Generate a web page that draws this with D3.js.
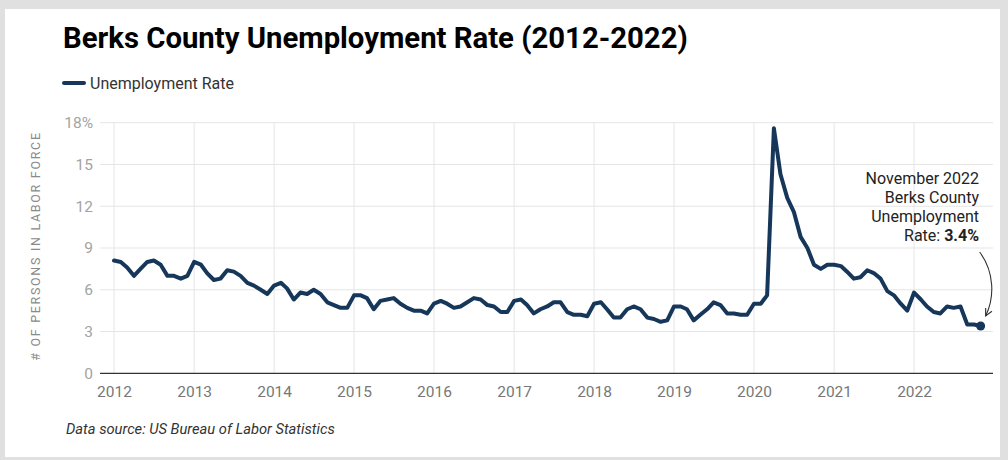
<!DOCTYPE html>
<html>
<head>
<meta charset="utf-8">
<script src="https://cdn.jsdelivr.net/npm/d3@7"></script>
<style>
  html, body { margin: 0; padding: 0; background: #e0e0e0; }
  svg { display: block; font-family: Roboto, "Noto Sans", sans-serif; }
</style>
</head>
<body>
<svg id="chart" width="1008" height="460"></svg>
<script>
// ---- Data ----
const years = [2012, 2013, 2014, 2015, 2016, 2017, 2018, 2019, 2020, 2021, 2022];
const yTicks = [0, 3, 6, 9, 12, 15, 18];
const rate2012 = [8.1, 8.0, 7.6, 7.0, 7.5, 8.0, 8.1, 7.8, 7.0, 7.0, 6.8, 7.0];
const rate2013 = [8.0, 7.8, 7.2, 6.7, 6.8, 7.4, 7.3, 7.0, 6.5, 6.3, 6.0, 5.7];
const rate2014 = [6.3, 6.5, 6.1, 5.3, 5.8, 5.7, 6.0, 5.7, 5.1, 4.9, 4.7, 4.7];
const rate2015 = [5.6, 5.6, 5.4, 4.6, 5.2, 5.3, 5.4, 5.0, 4.7, 4.5, 4.5, 4.3];
const rate2016 = [5.0, 5.2, 5.0, 4.7, 4.8, 5.1, 5.4, 5.3, 4.9, 4.8, 4.4, 4.4];
const rate2017 = [5.2, 5.3, 4.9, 4.3, 4.6, 4.8, 5.1, 5.1, 4.4, 4.2, 4.2, 4.1];
const rate2018 = [5.0, 5.1, 4.6, 4.0, 4.0, 4.6, 4.8, 4.6, 4.0, 3.9, 3.7, 3.8];
const rate2019 = [4.8, 4.8, 4.6, 3.8, 4.2, 4.6, 5.1, 4.9, 4.3, 4.3, 4.2, 4.2];
const rate2020 = [5.0, 5.0, 5.6, 17.6, 14.3, 12.6, 11.6, 9.8, 9.0, 7.8, 7.5, 7.8];
const rate2021 = [7.8, 7.7, 7.3, 6.8, 6.9, 7.4, 7.2, 6.8, 5.9, 5.6, 5.0, 4.5];
const rate2022 = [5.8, 5.3, 4.8, 4.4, 4.3, 4.8, 4.7, 4.8, 3.5, 3.5, 3.4];
const seriesName = "Unemployment Rate";

const byYear = [rate2012, rate2013, rate2014, rate2015, rate2016, rate2017,
                rate2018, rate2019, rate2020, rate2021, rate2022];
const data = [];
byYear.forEach((arr, i) => arr.forEach((v, m) => data.push({ date: new Date(years[i], m, 1), value: v })));

// ---- Layout ----
const svg = d3.select("#chart");
const plotLeft = 100, plotRight = 993, plotTop = 122.7, plotBottom = 373.3;

svg.append("rect").attr("x", 5).attr("y", 9).attr("width", 995).attr("height", 448).attr("fill", "#ffffff");

const x = d3.scaleTime()
  .domain([new Date(2012, 0, 1), new Date(2023, 0, 1)])
  .range([114, 994]);
const y = d3.scaleLinear().domain([0, 18]).range([plotBottom, plotTop]);

// Title
svg.append("text").attr("x", 63).attr("y", 48)
  .attr("font-size", 29.3).attr("font-weight", 700).attr("fill", "#000")
  .text("Berks County Unemployment Rate (2012-2022)");

// Legend
svg.append("line").attr("x1", 64).attr("x2", 84).attr("y1", 83).attr("y2", 83)
  .attr("stroke", "#16375a").attr("stroke-width", 4).attr("stroke-linecap", "round");
svg.append("text").attr("x", 90).attr("y", 89).attr("font-size", 16).attr("fill", "#333")
  .text(seriesName);

// Grid
const grid = svg.append("g");
grid.selectAll("line.h").data(yTicks.filter(d => d > 0)).join("line")
  .attr("x1", plotLeft).attr("x2", plotRight)
  .attr("y1", d => y(d)).attr("y2", d => y(d))
  .attr("stroke", "#e5e5e5").attr("stroke-width", 1);
grid.selectAll("line.v").data(years).join("line")
  .attr("x1", d => x(new Date(d, 0, 1))).attr("x2", d => x(new Date(d, 0, 1)))
  .attr("y1", plotTop).attr("y2", plotBottom)
  .attr("stroke", "#e5e5e5").attr("stroke-width", 1);

// Y axis
const yAxis = svg.append("g").attr("transform", `translate(${plotLeft},0)`)
  .call(d3.axisLeft(y).tickValues(yTicks).tickSize(0).tickPadding(7)
    .tickFormat(d => d === 18 ? "18%" : d));
yAxis.select(".domain").remove();
yAxis.selectAll("text").attr("font-size", 15.5).attr("fill", "#a3a3a3").attr("font-family", "Roboto");

// X axis
const xAxis = svg.append("g").attr("transform", `translate(0,${plotBottom})`)
  .call(d3.axisBottom(x).tickValues(years.map(d => new Date(d, 0, 1))).tickSize(0).tickPadding(13)
    .tickFormat(d3.timeFormat("%Y")));
xAxis.select(".domain").remove();
xAxis.selectAll("text").attr("font-size", 15.5).attr("fill", "#777").attr("font-family", "Roboto");

// Baseline
svg.append("line").attr("x1", plotLeft).attr("x2", plotRight)
  .attr("y1", y(0)).attr("y2", y(0)).attr("stroke", "#333").attr("stroke-width", 1.2);

// Y label
svg.append("text")
  .attr("transform", `translate(40,246) rotate(-90)`)
  .attr("text-anchor", "middle").attr("font-size", 12.5).attr("letter-spacing", 1.7)
  .attr("fill", "#8a8a8a").text("# OF PERSONS IN LABOR FORCE");

// Line
const line = d3.line().x(d => x(d.date)).y(d => y(d.value));
svg.append("path").datum(data).attr("d", line)
  .attr("fill", "none").attr("stroke", "#16375a").attr("stroke-width", 4)
  .attr("stroke-linejoin", "round").attr("stroke-linecap", "round");

const last = data[data.length - 1];
svg.append("circle").attr("cx", x(last.date)).attr("cy", y(last.value)).attr("r", 4.5)
  .attr("fill", "#16375a");

// Annotation
const ann = svg.append("text").attr("text-anchor", "end").attr("font-size", 16).attr("fill", "#222");
const annLines = ["November 2022", "Berks County", "Unemployment"];
annLines.forEach((t, i) => ann.append("tspan").attr("x", 979).attr("y", 184 + i * 19).text(t));
const lastT = ann.append("tspan").attr("x", 979).attr("y", 184 + 3 * 19);
lastT.append("tspan").text("Rate: ");
lastT.append("tspan").attr("font-weight", 700).text(last.value.toFixed(1) + "%");

// Arrow
const defs = svg.append("defs");
defs.append("marker").attr("id", "ah").attr("viewBox", "0 0 10 10").attr("refX", 9).attr("refY", 5)
  .attr("markerWidth", 8).attr("markerHeight", 8).attr("orient", "auto")
  .append("path").attr("d", "M1,1 L9,5 L1,9").attr("fill", "none").attr("stroke", "#333").attr("stroke-width", 1.3);
const ax = x(last.date), ay = y(last.value);
svg.append("path")
  .attr("d", `M${ax - 1},252 C${ax + 14},272 ${ax + 14},298 ${ax + 5},${ay - 10}`)
  .attr("fill", "none").attr("stroke", "#333").attr("stroke-width", 1.1)
  .attr("marker-end", "url(#ah)");

// Source
svg.append("text").attr("x", 66).attr("y", 434).attr("font-size", 14.7).attr("font-style", "italic")
  .attr("fill", "#333").text("Data source: US Bureau of Labor Statistics");
</script>
</body>
</html>
